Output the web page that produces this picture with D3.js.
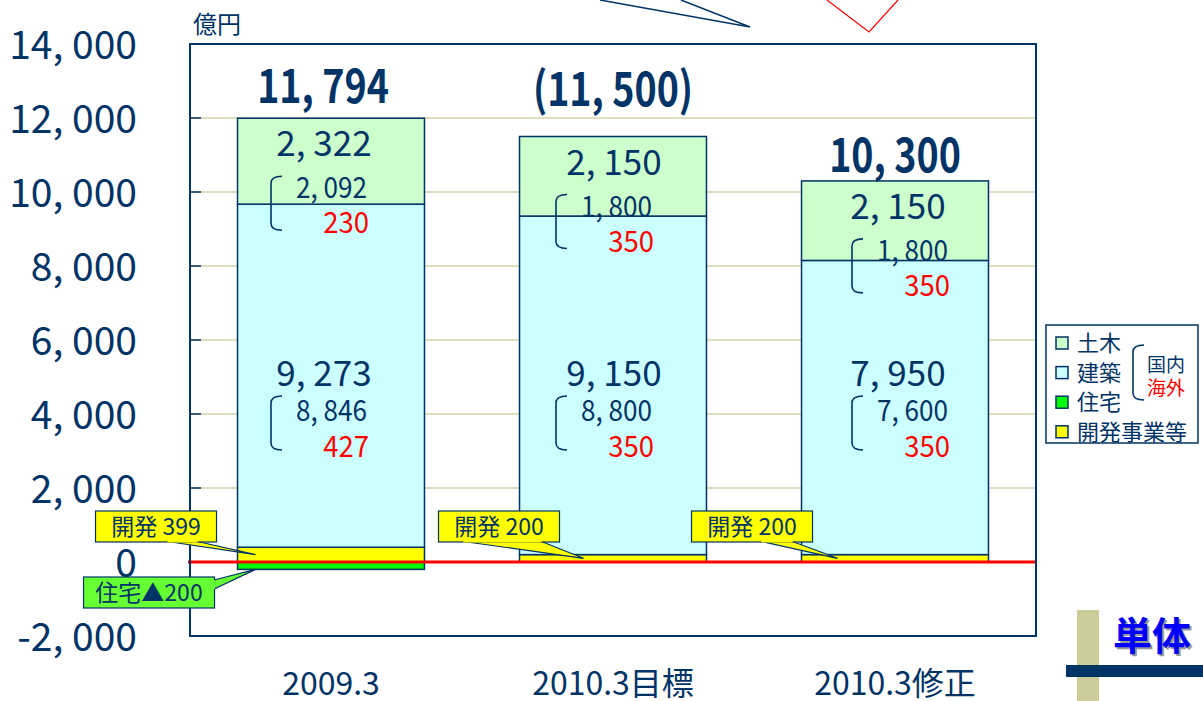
<!DOCTYPE html>
<html>
<head>
<meta charset="utf-8">
<script src="https://cdn.jsdelivr.net/npm/d3@7"></script>
<style>
  body { margin: 0; background: #fff; }
  svg { display: block; font-family: "Noto Sans CJK JP", "Noto Sans", sans-serif; }
</style>
</head>
<body>
<svg width="1203" height="701"></svg>
<script>
// data (億円)
const categories = ["2009.3", "2010.3目標", "2010.3修正"];
const development = [399, 200, 200];        // 開発事業等
const housing = [-200, 0, 0];               // 住宅
const building = [9273, 9150, 7950];        // 建築
const buildingDomestic = [8846, 8800, 7600];
const buildingOverseas = [427, 350, 350];
const civil = [2322, 2150, 2150];           // 土木
const civilDomestic = [2092, 1800, 1800];
const civilOverseas = [230, 350, 350];
const isTarget = [false, true, false];
const yTicks = [-2000, 0, 2000, 4000, 6000, 8000, 10000, 12000, 14000];
const legendLabels = ["土木", "建築", "住宅", "開発事業等"];
const devCalloutLabel = "開発";
const housingCalloutLabel = "住宅▲";

const navy = "#003366";
const red = "#ff0000";
const keys = ["development", "building", "civil", "housing"];
const fills = { civil: "#ccffcc", building: "#ccffff", housing: "#00ff00", development: "#ffff00" };

// small layout nudges, copied off the slide
const labelNudge = [-3, 0, 14];
const mainDx = [-7, 1, 3];
const totalLift = [15, 31, 9];
const calloutBoxDx = [-142, -81, -110];
const calloutWedge = [[72, 102], [25, 103], [70, 101]];
const calloutTipDx = [18, 64, 36];

const svg = d3.select("svg");

const y = d3.scaleLinear().domain([-2000, 14000]).range([636, 44]);
const x = d3.scaleBand()
    .domain(categories)
    .range([190, 1036])
    .paddingInner(0.337)
    .paddingOuter(0.1685);

const fmt = v => d3.format(",")(Math.abs(v)).replace(",", ", ");
const tickFmt = v => (v < 0 ? "-" : "") + fmt(v);

function numText(g, s, px, py, size, opts = {}) {
    return g.append("text")
        .attr("transform", `translate(${px},${py}) scale(${opts.sx || 1},1)`)
        .attr("text-anchor", opts.anchor || "middle")
        .attr("font-size", size)
        .attr("font-weight", opts.weight || "normal")
        .attr("fill", opts.color || navy)
        .text(s);
}

function bracket(g, bx, top, bottom) {
    g.append("path")
        .attr("d", `M${bx + 11},${top} Q${bx},${top} ${bx},${top + 7} L${bx},${bottom - 7} Q${bx},${bottom} ${bx + 11},${bottom}`)
        .attr("fill", "none")
        .attr("stroke", navy)
        .attr("stroke-width", 1.6);
}

// decoration lines cut off at the top of the slide
svg.append("polyline")
    .attr("points", "600,0 750,27 681,0")
    .attr("fill", "none").attr("stroke", navy).attr("stroke-width", 1.5);
svg.append("polyline")
    .attr("points", "827,0 869,32 898,0")
    .attr("fill", "none").attr("stroke", red).attr("stroke-width", 1.2);

// gridlines
svg.append("g")
    .selectAll("line")
    .data(yTicks.filter(v => v > -2000 && v < 14000 && v !== 0))
    .join("line")
    .attr("x1", 190).attr("x2", 1036)
    .attr("y1", d => y(d)).attr("y2", d => y(d))
    .attr("stroke", "#d4d2a4")
    .attr("stroke-width", 1.5);

// y axis
const yAxis = svg.append("g")
    .attr("transform", "translate(190,0)")
    .call(d3.axisLeft(y).tickValues(yTicks).tickFormat(tickFmt).tickSize(0).tickPadding(53));
yAxis.select(".domain").remove();
yAxis.selectAll("text")
    .attr("font-family", "Noto Sans CJK JP")
    .attr("font-size", 39)
    .attr("dy", "0.36em")
    .attr("fill", navy);

svg.append("g")
    .selectAll("line")
    .data(yTicks)
    .join("line")
    .attr("x1", 190).attr("x2", 201)
    .attr("y1", d => y(d)).attr("y2", d => y(d))
    .attr("stroke", navy).attr("stroke-width", 1.5);

// stacked bars
const rows = categories.map((c, i) => ({
    cat: c,
    development: development[i],
    building: building[i],
    civil: civil[i],
    housing: housing[i]
}));
const series = d3.stack().keys(keys).offset(d3.stackOffsetDiverging)(rows);

svg.append("g")
    .selectAll("g")
    .data(series)
    .join("g")
    .attr("fill", s => fills[s.key])
    .selectAll("rect")
    .data(s => s.filter(d => d[1] !== d[0]))
    .join("rect")
    .attr("x", d => x(d.data.cat))
    .attr("y", d => y(d[1]))
    .attr("width", x.bandwidth())
    .attr("height", d => y(d[0]) - y(d[1]))
    .attr("stroke", navy)
    .attr("stroke-width", 1.5);

// zero line
svg.append("line")
    .attr("x1", 188).attr("x2", 1036)
    .attr("y1", y(0)).attr("y2", y(0))
    .attr("stroke", red).attr("stroke-width", 3);

// plot frame
svg.append("rect")
    .attr("x", 190).attr("y", y(14000))
    .attr("width", 846).attr("height", y(-2000) - y(14000))
    .attr("fill", "none").attr("stroke", navy).attr("stroke-width", 2);

svg.append("text")
    .attr("x", 193).attr("y", 33)
    .attr("font-size", 24)
    .attr("fill", navy)
    .text("億円");

// value labels
const labels = svg.append("g");
categories.forEach((c, i) => {
    const cx = x(c) + x.bandwidth() / 2;
    const n = labelNudge[i];
    const posTop = y(development[i] + building[i] + civil[i]);
    const total = development[i] + building[i] + civil[i] + housing[i];
    const totalStr = isTarget[i] ? `(${fmt(total)})` : fmt(total);
    numText(labels, totalStr, cx - (i === 0 ? 8 : 0), posTop - totalLift[i], 47, { weight: "bold", sx: 0.8 });

    numText(labels, fmt(civil[i]), cx + mainDx[i], posTop + 38, 35, { sx: 1.0 });
    numText(labels, fmt(civilDomestic[i]), cx - 32 + n, posTop + 80, 29, { anchor: "start", sx: 0.9 });
    numText(labels, fmt(civilOverseas[i]), cx + 41 + n, posTop + 115, 29, { anchor: "end", sx: 0.95, color: red });
    bracket(labels, cx - 57 + n, posTop + 58, posTop + 112);

    const b0 = y(0);
    numText(labels, fmt(building[i]), cx + mainDx[i], b0 - 176, 35, { sx: 1.0 });
    numText(labels, fmt(buildingDomestic[i]), cx - 32 + n, b0 - 141, 29, { anchor: "start", sx: 0.9 });
    numText(labels, fmt(buildingOverseas[i]), cx + 41 + n, b0 - 105, 29, { anchor: "end", sx: 0.95, color: red });
    bracket(labels, cx - 57 + n, b0 - 166, b0 - 112);

    // x category label
    labels.append("text")
        .attr("x", cx).attr("y", 695)
        .attr("text-anchor", "middle")
        .attr("font-size", 32)
        .attr("fill", navy)
        .text(c);
});

// callouts
function callout(text, bx, by, w, h, fill, wedge, tip) {
    const g = svg.append("g");
    g.append("polygon")
        .attr("points", `${wedge[0][0]},${wedge[0][1]} ${tip[0]},${tip[1]} ${wedge[1][0]},${wedge[1][1]}`)
        .attr("fill", fill).attr("stroke", navy).attr("stroke-width", 1.2);
    g.append("rect")
        .attr("x", bx).attr("y", by).attr("width", w).attr("height", h)
        .attr("fill", fill).attr("stroke", navy).attr("stroke-width", 1.2);
    // cover the wedge base so it blends into the box
    g.append("line")
        .attr("x1", wedge[0][0]).attr("y1", wedge[0][1])
        .attr("x2", wedge[1][0]).attr("y2", wedge[1][1])
        .attr("stroke", fill).attr("stroke-width", 2);
    g.append("text")
        .attr("x", bx + w / 2).attr("y", by + h / 2 + 8)
        .attr("text-anchor", "middle")
        .attr("font-size", 23)
        .attr("fill", navy)
        .text(text);
}

categories.forEach((c, i) => {
    const left = x(c);
    const bx = left + calloutBoxDx[i];
    const by = y(0) - 51;
    callout(`${devCalloutLabel} ${development[i]}`, bx, by, 121, 31, "#ffff00",
        [[bx + calloutWedge[i][0], by + 30.5], [bx + calloutWedge[i][1], by + 30.5]],
        [left + calloutTipDx[i], y(development[i] / 2)]);
    if (housing[i] < 0) {
        const hx = left - 154, hy = y(0) + 15;
        callout(`${housingCalloutLabel}${Math.abs(housing[i])}`, hx, hy, 131, 31, "#66ff33",
            [[hx + 130.5, hy + 3], [hx + 130.5, hy + 12]],
            [left + 18, y(housing[i])]);
    }
});

// legend
const legend = svg.append("g");
legend.append("rect")
    .attr("x", 1046).attr("y", 325).attr("width", 152).attr("height", 118)
    .attr("fill", "#fff").attr("stroke", navy).attr("stroke-width", 1.5);
const legendKeys = ["civil", "building", "housing", "development"];
legendLabels.forEach((lab, i) => {
    const cy = 343 + i * 29.6;
    legend.append("rect")
        .attr("x", 1056).attr("y", cy - 6).attr("width", 12).attr("height", 12)
        .attr("fill", fills[legendKeys[i]]).attr("stroke", navy).attr("stroke-width", 1.5);
    legend.append("text")
        .attr("x", 1077).attr("y", cy + 8)
        .attr("font-size", 22).attr("fill", navy)
        .text(lab);
});
bracket(legend, 1133, 345, 400);
legend.append("text").attr("x", 1147).attr("y", 372).attr("font-size", 19).attr("fill", navy).text("国内");
legend.append("text").attr("x", 1147).attr("y", 395).attr("font-size", 19).attr("fill", red).text("海外");

// corner mark
svg.append("rect").attr("x", 1077).attr("y", 610).attr("width", 22).attr("height", 91).attr("fill", "#cccc99");
svg.append("rect").attr("x", 1066).attr("y", 665).attr("width", 137).attr("height", 12).attr("fill", navy);
svg.append("text").attr("x", 1115).attr("y", 652).attr("font-size", 39).attr("font-weight", "bold")
    .attr("fill", "#999").text("単体");
svg.append("text").attr("x", 1113).attr("y", 650).attr("font-size", 39).attr("font-weight", "bold")
    .attr("fill", "#0000ff").text("単体");
svg.append("text").attr("x", 1140).attr("y", 714).attr("font-size", 18).attr("fill", "#993333").text("28");
</script>
</body>
</html>
